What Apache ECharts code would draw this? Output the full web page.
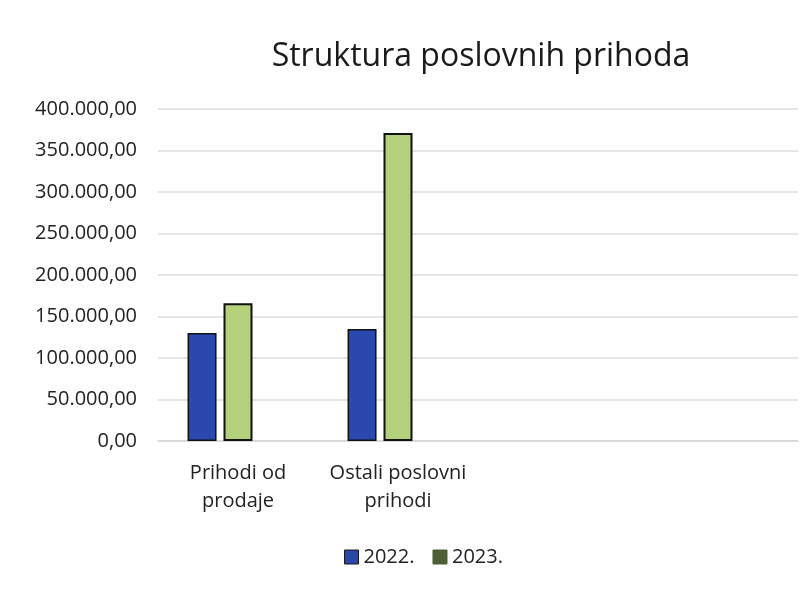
<!DOCTYPE html>
<html>
<head>
<meta charset="utf-8">
<script src="https://cdn.jsdelivr.net/npm/echarts@6/dist/echarts.min.js"></script>
<style>
  html, body {margin: 0; padding: 0; background: #fff;}
  #chart {width: 812px; height: 589px;}
</style>
</head>
<body>
<div id="chart"></div>
<script>
// podaci
const categories = ['Prihodi od\nprodaje', 'Ostali poslovni\nprihodi', '', ''];
const values2022 = [130000, 135000];
const values2023 = [166000, 371000];
const seriesNames = ['2022.', '2023.'];

const fmt = (v) => {
  let parts = v.toFixed(2).split('.');
  parts[0] = parts[0].replace(/\B(?=(\d{3})+(?!\d))/g, '.');
  return parts.join(',');
};

let chart = echarts.init(document.getElementById('chart'));
chart.setOption({
  animation: false,
  textStyle: {fontFamily: 'Open Sans'},
  title: {
    text: 'Struktura poslovnih prihoda',
    left: 476, top: 36,
    textAlign: 'center',
    textStyle: {fontSize: 32, fontWeight: 'normal', color: '#1a1a1a', fontFamily: 'Open Sans'}
  },
  legend: {
    left: 339, top: 542,
    itemWidth: 14, itemHeight: 14, itemGap: 18,
    icon: 'rect',
    inactiveColor: '#4f5f35',
    textStyle: {fontSize: 20, color: '#222'},
    data: [
      {name: seriesNames[0], itemStyle: {color: '#2946a8', borderColor: '#1a1a1a', borderWidth: 1}},
      {name: seriesNames[1], itemStyle: {color: '#4f5f35', borderColor: '#4f5f35', borderWidth: 1}}
    ]
  },
  grid: {left: 158, right: 14, top: 109, bottom: 148},
  xAxis: {
    type: 'category',
    data: categories,
    axisLine: {lineStyle: {color: '#d6d6d6', width: 1.5}},
    axisTick: {show: false},
    axisLabel: {fontSize: 20, color: '#222', lineHeight: 28, margin: 18, interval: 0}
  },
  yAxis: {
    type: 'value',
    min: 0, max: 400000, interval: 50000,
    axisLine: {show: false},
    axisTick: {show: false},
    splitLine: {lineStyle: {color: '#dcdcdc', width: 1.5}},
    axisLabel: {fontSize: 20, color: '#222', margin: 21, formatter: fmt}
  },
  series: [
    {
      name: seriesNames[0], type: 'bar', data: values2022,
      barWidth: 29, barGap: '24%',
      itemStyle: {color: '#2a48ad', borderColor: '#111', borderWidth: 1.5}
    },
    {
      name: seriesNames[1], type: 'bar', data: values2023,
      barWidth: 29, barGap: '24%',
      itemStyle: {color: '#b5d17c', borderColor: '#111', borderWidth: 2}
    },
    // prazan treci stupac kao u Excelu
    {name: '', type: 'bar', data: [], barWidth: 29, barGap: '24%'}
  ]
});
</script>
</body>
</html>
